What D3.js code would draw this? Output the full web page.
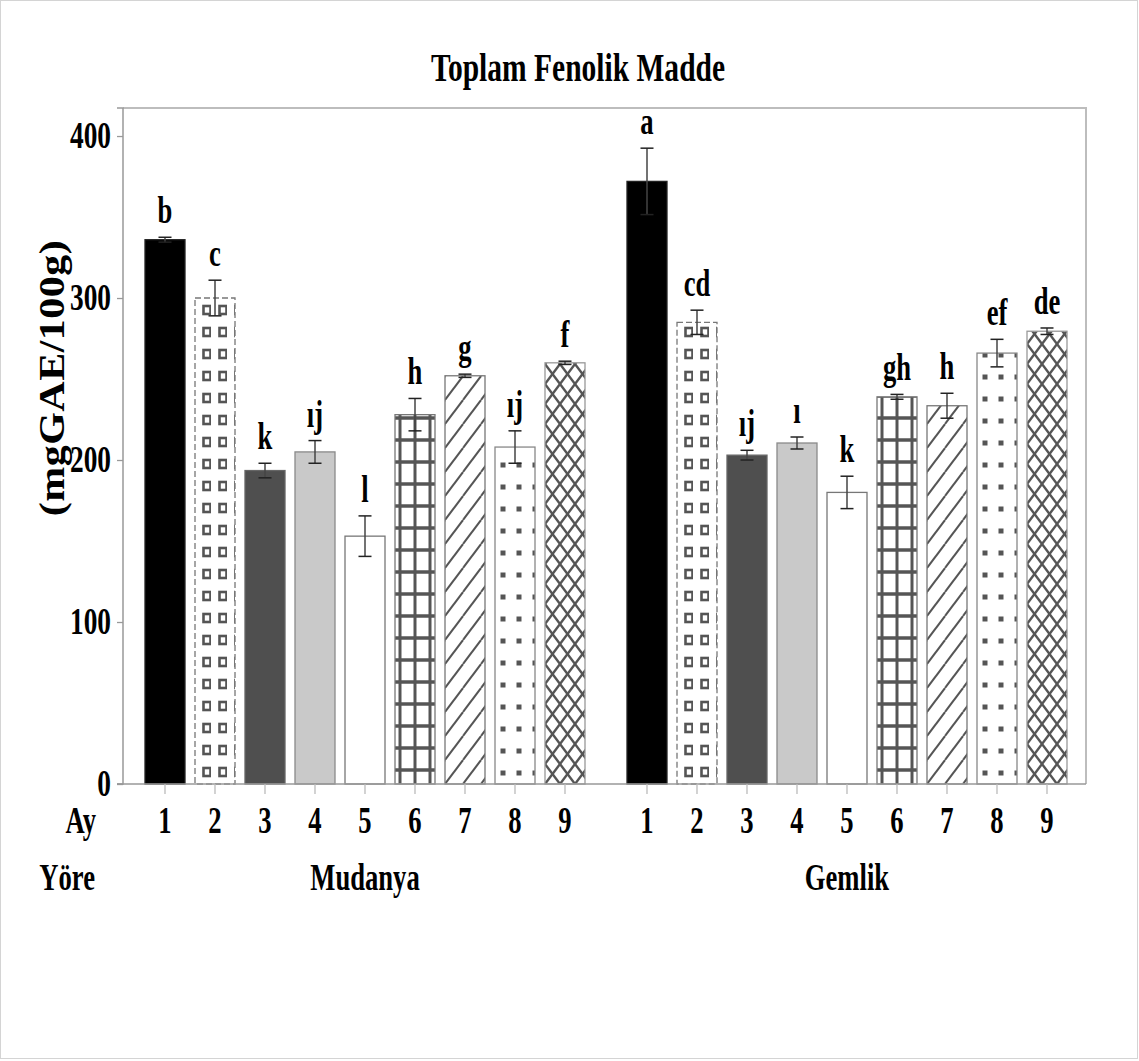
<!DOCTYPE html>
<html>
<head>
<meta charset="utf-8">
<script src="https://cdn.jsdelivr.net/npm/d3@7"></script>
<style>
  html, body { margin: 0; padding: 0; background: #fff; }
  svg text { font-family: "Liberation Serif", "Times New Roman", serif; font-weight: bold; fill: #000; }
</style>
</head>
<body>
<svg id="chart" width="1139" height="1061"></svg>
<script>
// Total phenolic content (mg GAE / 100 g) by month and location
const groups = ["Mudanya", "Gemlik"];
const months = ["1", "2", "3", "4", "5", "6", "7", "8", "9"];
const mudanyaMeans = [336, 300, 193.5, 205, 153, 228, 252, 208, 260];
const mudanyaErr = [1.5, 11, 4.5, 7, 12.5, 10, 1, 10, 1];
const mudanyaLetters = ["b", "c", "k", "ıj", "l", "h", "g", "ıj", "f"];
const gemlikMeans = [372, 285, 203, 210.5, 180, 239, 233.5, 266, 279.5];
const gemlikErr = [20.5, 7.5, 3, 3.7, 10, 1.5, 7.7, 8.5, 2];
const gemlikLetters = ["a", "cd", "ıj", "ı", "k", "gh", "h", "ef", "de"];
const yTicks = [0, 100, 200, 300, 400];

const seriesByGroup = {
  Mudanya: { means: mudanyaMeans, err: mudanyaErr, letters: mudanyaLetters },
  Gemlik: { means: gemlikMeans, err: gemlikErr, letters: gemlikLetters }
};

const rows = [];
groups.forEach(g => {
  months.forEach((m, i) => {
    rows.push({ group: g, month: m, idx: i,
      mean: seriesByGroup[g].means[i], err: seriesByGroup[g].err[i], letter: seriesByGroup[g].letters[i] });
  });
});

const svg = d3.select("#chart");
const SX = 0.72; // narrow bold face

// plot frame
const plot = { left: 123, right: 1086, top: 108, bottom: 784 };

const y = d3.scaleLinear().domain([0, 417.3]).range([plot.bottom, plot.top]);
const xGroup = d3.scaleBand().domain(groups).range([140, 1072]).paddingInner(32 / 482);
const xMonth = d3.scaleBand().domain(months).range([0, xGroup.bandwidth()]).paddingInner(0.2).paddingOuter(0.1);

const bx = d => xGroup(d.group) + xMonth(d.month);
const cx = d => bx(d) + xMonth.bandwidth() / 2;

function label(parent, x, yy, text, size, anchor) {
  return parent.append("text")
    .attr("transform", `translate(${x},${yy}) scale(${SX},1)`)
    .attr("text-anchor", anchor || "middle")
    .style("font-size", size + "px")
    .text(text);
}

// outer picture frame
svg.append("rect").attr("x", 0.5).attr("y", 0.5).attr("width", 1137).attr("height", 1058)
  .attr("fill", "none").attr("stroke", "#d4d4d4").attr("stroke-width", 1);

// fill patterns, one per bar so each starts at its bar's left edge
const defs = svg.append("defs");
const ink = "#555";
function makePattern(d, id) {
  const i = d.idx;
  let w = 15, h = 22;
  if (i === 1) { w = 16; h = 22; }
  if (i === 6) { w = 18; h = 24; }
  if (i === 8) { w = 15; h = 20; }
  if (i === 7) { w = 16; h = 22; }
  const p = defs.append("pattern").attr("id", id)
    .attr("patternUnits", "userSpaceOnUse")
    .attr("x", bx(d)).attr("y", plot.bottom)
    .attr("width", w).attr("height", h);
  p.append("rect").attr("width", w).attr("height", h).attr("fill", "#fff");
  if (i === 1) {
    p.append("rect").attr("x", 8.5).attr("y", 6).attr("width", 7).attr("height", 8)
      .attr("fill", "none").attr("stroke", ink).attr("stroke-width", 2.6);
  } else if (i === 5) {
    p.append("line").attr("x1", 5).attr("x2", 5).attr("y1", 0).attr("y2", h).attr("stroke", ink).attr("stroke-width", 3);
    p.append("line").attr("x1", 0).attr("x2", w).attr("y1", 8).attr("y2", 8).attr("stroke", ink).attr("stroke-width", 3.5);
  } else if (i === 6) {
    [[-w, h, 0, 0], [0, h, w, 0], [w, h, 2 * w, 0]].forEach(c =>
      p.append("line").attr("x1", c[0]).attr("y1", c[1]).attr("x2", c[2]).attr("y2", c[3])
        .attr("stroke", ink).attr("stroke-width", 2));
  } else if (i === 7) {
    p.append("rect").attr("x", 5.5).attr("y", 8.5).attr("width", 5).attr("height", 5).attr("fill", ink);
  } else if (i === 8) {
    [[0, 0, w, h], [0, h, w, 0], [-w, 0, 0, h], [w, 0, 2 * w, h], [-w, h, 0, 0], [w, h, 2 * w, 0]].forEach(c =>
      p.append("line").attr("x1", c[0]).attr("y1", c[1]).attr("x2", c[2]).attr("y2", c[3])
        .attr("stroke", ink).attr("stroke-width", 2.4));
  }
}

const solidFill = { 0: "#000", 2: "#4f4f4f", 3: "#c9c9c9", 4: "#fff" };
const strokeCol = { 0: "#222", 1: "#777", 2: "#666", 3: "#8a8a8a", 4: "#777", 5: "#777", 6: "#777", 7: "#888", 8: "#999" };

// axes frame: top and right borders
svg.append("path")
  .attr("d", `M${plot.left},${plot.top}H${plot.right}V${plot.bottom}`)
  .attr("fill", "none").attr("stroke", "#bdbdbd").attr("stroke-width", 2);

// bars
const bars = svg.append("g");
rows.forEach((d, k) => {
  let fill = solidFill[d.idx];
  if (fill === undefined) {
    const id = `pat-${k}`;
    makePattern(d, id);
    fill = `url(#${id})`;
  }
  bars.append("rect")
    .attr("x", bx(d)).attr("y", y(d.mean))
    .attr("width", xMonth.bandwidth()).attr("height", y(0) - y(d.mean))
    .attr("fill", fill)
    .attr("stroke", strokeCol[d.idx]).attr("stroke-width", 1.3)
    .attr("stroke-dasharray", d.idx === 1 ? "6,3" : null);
});

// error bars
const eb = svg.append("g").attr("stroke", "#222").attr("stroke-width", 1.5);
rows.forEach(d => {
  const x0 = cx(d), hi = y(d.mean + d.err), lo = y(d.mean - d.err);
  eb.append("line").attr("x1", x0).attr("x2", x0).attr("y1", hi).attr("y2", lo).attr("stroke", "#444");
  eb.append("line").attr("x1", x0 - 6.5).attr("x2", x0 + 6.5).attr("y1", hi).attr("y2", hi);
  eb.append("line").attr("x1", x0 - 6.5).attr("x2", x0 + 6.5).attr("y1", lo).attr("y2", lo);
});

// significance letters
rows.forEach(d => label(svg, cx(d), y(d.mean + d.err) - 14, d.letter, 37));

// y axis
const yAxis = d3.axisLeft(y).tickValues(yTicks).tickSize(6).tickFormat(d3.format("d"));
const ya = svg.append("g").attr("transform", `translate(${plot.left},0)`).call(yAxis);
ya.select(".domain").attr("stroke", "#999").attr("stroke-width", 1.5).attr("d", `M-6,${plot.top}H0V${plot.bottom}H-6`);
ya.selectAll(".tick line").attr("stroke", "#999").attr("stroke-width", 1.3);
ya.selectAll(".tick text").remove();
yTicks.forEach(t => label(svg, plot.left - 12, y(t) + 12, String(t), 38, "end"));

// x axis baseline and month ticks
svg.append("line").attr("x1", plot.left - 6).attr("x2", plot.right).attr("y1", plot.bottom).attr("y2", plot.bottom)
  .attr("stroke", "#999").attr("stroke-width", 1.5);
rows.forEach(d => {
  svg.append("line").attr("x1", cx(d)).attr("x2", cx(d)).attr("y1", plot.bottom).attr("y2", plot.bottom + 10)
    .attr("stroke", "#bbb").attr("stroke-width", 1.3);
  label(svg, cx(d), 833, d.month, 37);
});

// row headers and group names
label(svg, 96, 833, "Ay", 37, "end");
label(svg, 95, 890, "Yöre", 37, "end");
groups.forEach(g => label(svg, xGroup(g) + xGroup.bandwidth() / 2, 890, g, 37));

// title
label(svg, 578, 81, "Toplam Fenolik Madde", 41);

// y axis title
svg.append("text")
  .attr("transform", `translate(64,378) scale(0.86,1) rotate(-90)`)
  .attr("text-anchor", "middle")
  .style("font-size", "42px")
  .style("letter-spacing", "0.5px")
  .text("(mgGAE/100g)");
</script>
</body>
</html>
